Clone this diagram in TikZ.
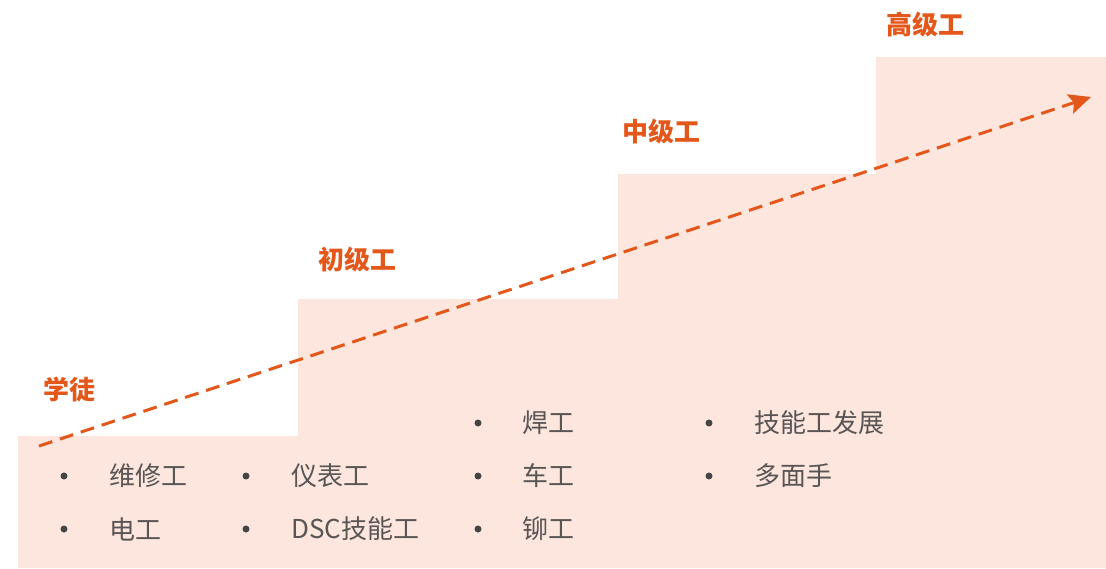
\documentclass[tikz,border=0pt]{standalone}
\usepackage{fontspec}
\setmainfont{Noto Sans CJK SC}
\usetikzlibrary{arrows.meta}
\definecolor{peach}{HTML}{FCE6DE}
\definecolor{orng}{HTML}{E4571B}
\definecolor{txtgray}{HTML}{595555}
\definecolor{dotgray}{HTML}{454545}
\begin{document}
\begin{tikzpicture}[x=1pt,y=-1pt,
  title/.style={font=\fontsize{26}{30}\selectfont\bfseries, text=orng, inner sep=0pt, anchor=west},
  item/.style={font=\fontsize{26}{30}\selectfont, text=txtgray, inner sep=0pt, anchor=west},
  dotb/.style={circle, fill=dotgray, inner sep=0pt, minimum size=7pt}]
\useasboundingbox (0,0) rectangle (1106,568);
\fill[peach] (18,568) -- (18,436) -- (298,436) -- (298,299) -- (618,299) -- (618,174) -- (876,174) -- (876,57) -- (1106,57) -- (1106,568) -- cycle;
\node[title] (t1) at (43,390) {学徒};
\node[title] (t2) at (318,260) {初级工};
\node[title] (t3) at (622,132) {中级工};
\node[title] (t4) at (886,25) {高级工};
\coordinate (as) at (39,446);
\coordinate (ae) at (1091,97);
\draw[orng, line width=3pt, dash pattern=on 14pt off 8pt, -{Stealth[length=22pt,width=20pt,inset=4pt]}] (as) -- (ae);
% column 1
\node[dotb] (b11) at (64,476) {}; \node[item] (i11) at (109,476) {维修工};
\node[dotb] (b12) at (64,529) {}; \node[item] (i12) at (109,529) {电工};
% column 2
\node[dotb] (b21) at (246,476) {}; \node[item] (i21) at (291,476) {仪表工};
\node[dotb] (b22) at (246,529) {}; \node[item] (i22) at (291,529) {DSC技能工};
% column 3
\node[dotb] (b31) at (478,423) {}; \node[item] (i31) at (522,423) {焊工};
\node[dotb] (b32) at (478,476) {}; \node[item] (i32) at (522,476) {车工};
\node[dotb] (b33) at (478,529) {}; \node[item] (i33) at (522,529) {铆工};
% column 4
\node[dotb] (b41) at (709,423) {}; \node[item] (i41) at (754,423) {技能工发展};
\node[dotb] (b42) at (709,476) {}; \node[item] (i42) at (754,476) {多面手};
\end{tikzpicture}
\end{document}
